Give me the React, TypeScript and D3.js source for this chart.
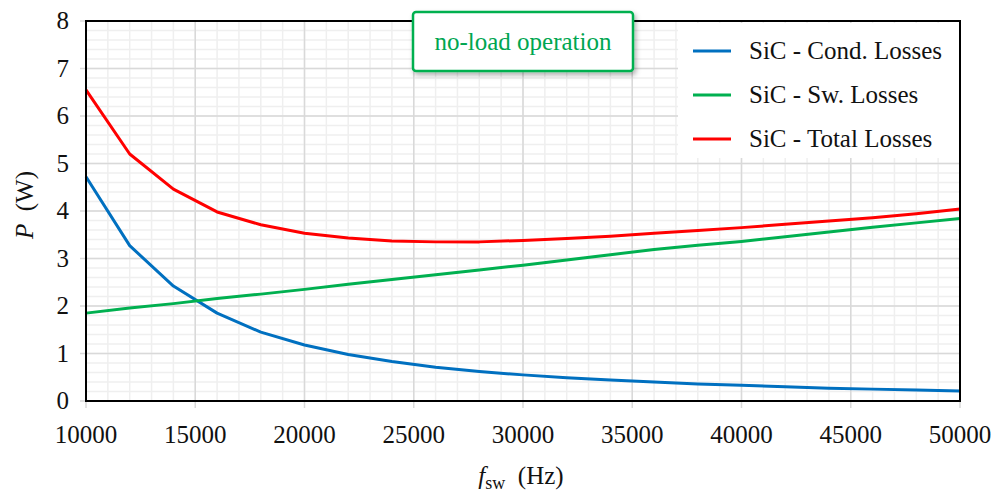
import React from "react";
import * as d3 from "d3";

const freqs = [10000, 12000, 14000, 16000, 18000, 20000, 22000, 24000, 26000, 28000, 30000,
  32000, 34000, 36000, 38000, 40000, 42000, 44000, 46000, 48000, 50000];
const condLosses = [4.72, 3.27, 2.42, 1.85, 1.45, 1.18, 0.98, 0.83, 0.71, 0.62, 0.55,
  0.49, 0.44, 0.4, 0.36, 0.33, 0.3, 0.27, 0.25, 0.23, 0.21];
const swLosses = [1.85, 1.96, 2.05, 2.16, 2.25, 2.35, 2.46, 2.56, 2.66, 2.76, 2.86,
  2.97, 3.08, 3.19, 3.28, 3.36, 3.46, 3.56, 3.66, 3.75, 3.84];
const totalLosses = [6.55, 5.2, 4.46, 3.98, 3.71, 3.53, 3.43, 3.37, 3.35, 3.35, 3.38,
  3.42, 3.47, 3.53, 3.59, 3.65, 3.72, 3.79, 3.86, 3.94, 4.04];
const xTicks = [10000, 15000, 20000, 25000, 30000, 35000, 40000, 45000, 50000];
const yTicks = [0, 1, 2, 3, 4, 5, 6, 7, 8];
const seriesNames = ["SiC - Cond. Losses", "SiC - Sw. Losses", "SiC - Total Losses"];
const seriesColors = ["#0070c0", "#00b050", "#ff0000"];

const W = 993;
const H = 492;
const left = 86, right = 960, top = 21, bottom = 401;
const font = "'Liberation Serif', 'Times New Roman', serif";

export default function App() {
  const x = d3.scaleLinear().domain([10000, 50000]).range([left, right]);
  const y = d3.scaleLinear().domain([0, 8]).range([bottom, top]);

  const minorX = d3.range(10000, 50001, 1000);
  const minorY = d3.range(0, 8.001, 0.2);

  const line = d3
    .line<number>()
    .x((_, i) => x(freqs[i]))
    .y((d) => y(d))
    .curve(d3.curveLinear);

  const allSeries = [condLosses, swLosses, totalLosses];

  return (
    <svg width={W} height={H} style={{ position: "absolute", left: 0, top: 0, fontFamily: font }}>
      <defs>
        <filter id="shadow" x="-10%" y="-20%" width="130%" height="160%">
          <feDropShadow dx="2" dy="3" stdDeviation="2.5" floodColor="#000" floodOpacity="0.3" />
        </filter>
      </defs>
      <rect width={W} height={H} fill="#fff" />

      {/* minor grid */}
      {minorX.map((v) => (
        <line key={"mx" + v} x1={x(v)} x2={x(v)} y1={top} y2={bottom} stroke="#efefef" strokeWidth={1.5} />
      ))}
      {minorY.map((v) => (
        <line key={"my" + v} x1={left} x2={right} y1={y(v)} y2={y(v)} stroke="#efefef" strokeWidth={1.5} />
      ))}
      {/* major grid */}
      {xTicks.map((v) => (
        <line key={"gx" + v} x1={x(v)} x2={x(v)} y1={top} y2={bottom + 7} stroke="#d9d9d9" strokeWidth={1.5} />
      ))}
      {yTicks.map((v) => (
        <line key={"gy" + v} x1={left - 6} x2={right} y1={y(v)} y2={y(v)} stroke="#d9d9d9" strokeWidth={1.5} />
      ))}

      {/* series */}
      {allSeries.map((s, i) => (
        <path key={i} d={line(s) || ""} fill="none" stroke={seriesColors[i]} strokeWidth={3} strokeLinejoin="round" />
      ))}

      {/* frame */}
      <rect x={left} y={top} width={right - left} height={bottom - top} fill="none" stroke="#000" strokeWidth={2} />

      {/* legend */}
      <rect x={678} y={23} width={right - 679} height={135} fill="#fff" />
      {seriesNames.map((n, i) => (
        <g key={n} transform={`translate(693, ${51 + i * 44})`}>
          <line x1={0} x2={38} y1={0} y2={0} stroke={seriesColors[i]} strokeWidth={3} />
          <text x={56} y={8} fontSize={25} fill="#111">{n}</text>
        </g>
      ))}

      {/* annotation */}
      <rect x={413} y={12} width={220} height={59} rx={3} fill="#fff" stroke="#00b050" strokeWidth={2.5} filter="url(#shadow)" />
      <text x={523} y={50} textAnchor="middle" fontSize={25} fill="#00a651">no-load operation</text>

      {/* tick labels */}
      {yTicks.map((v) => (
        <text key={"ty" + v} x={69} y={y(v) + 8} textAnchor="end" fontSize={25} fill="#111">{v}</text>
      ))}
      {xTicks.map((v) => (
        <text key={"tx" + v} x={x(v)} y={443} textAnchor="middle" fontSize={25} fill="#111">{v}</text>
      ))}

      {/* axis titles */}
      <text transform="translate(33, 205) rotate(-90)" textAnchor="middle" fontSize={25} fill="#111">
        <tspan fontStyle="italic">P</tspan>
        <tspan>{"\u00a0 (W)"}</tspan>
      </text>
      <text x={521} y={484} textAnchor="middle" fontSize={25} fill="#111">
        <tspan fontStyle="italic">f</tspan>
        <tspan fontSize={18} dy={5}>sw</tspan>
        <tspan dy={-5}>{"\u00a0 (Hz)"}</tspan>
      </text>
    </svg>
  );
}
